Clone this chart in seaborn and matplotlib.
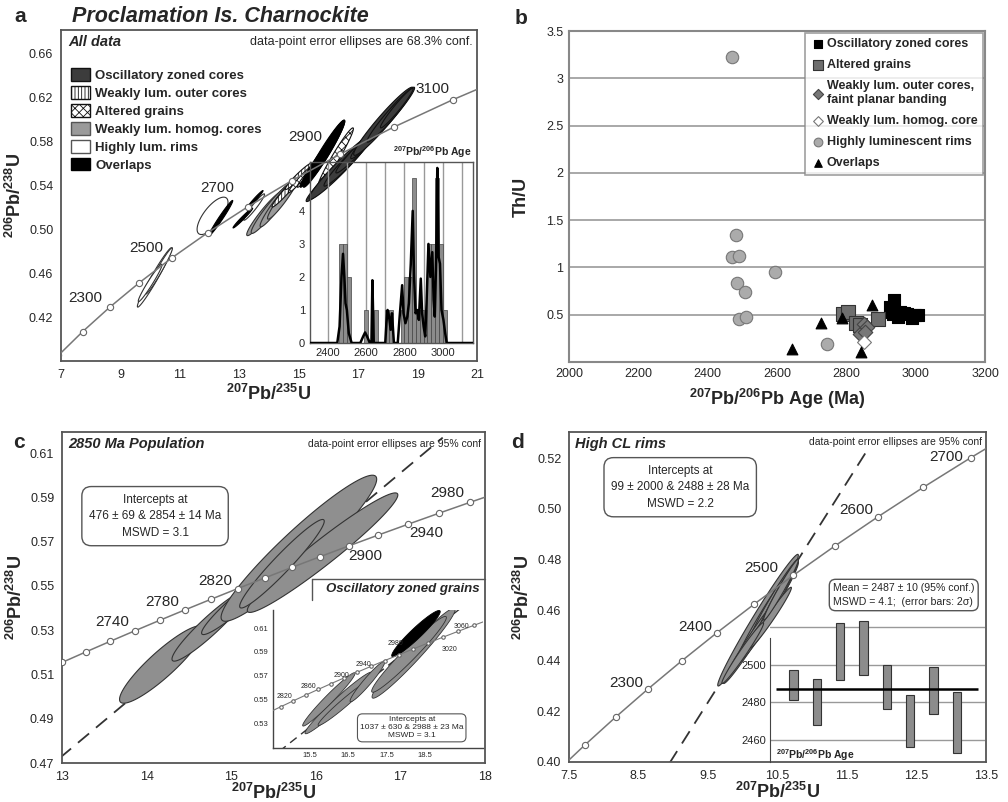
import numpy as np
import seaborn as sns
import matplotlib.pyplot as plt
from matplotlib.patches import Patch, Polygon
from matplotlib.lines import Line2D
from matplotlib.ticker import MultipleLocator, FuncFormatter, FormatStrFormatter

# ---------------- data ----------------
# U decay constants (per Ma) used to place the concordia curves
L238 = 1.55125e-4
L235 = 9.8485e-4

CONC_A = list(range(2100, 3201, 100))
CONC_C = list(range(2680, 3001, 20))
CONC_D = list(range(2150, 2751, 50))
CONC_CI = list(range(2780, 3101, 20))

# error ellipses: (x centre, y centre, x half-extent, y half-extent, rho)
A_RIMS = [(10.15, 0.456, 0.58, 0.027, 0.975), (10.3, 0.462, 0.45, 0.021, 0.975),
          (10.0, 0.451, 0.40, 0.017, 0.97), (12.1, 0.512, 0.52, 0.017, 0.72),
          (13.5, 0.520, 0.35, 0.012, 0.96), (14.2, 0.522, 0.55, 0.020, 0.95)]
A_HOMOG = [(13.85, 0.514, 0.60, 0.020, 0.95), (14.05, 0.518, 0.65, 0.022, 0.95),
           (14.25, 0.522, 0.55, 0.020, 0.95), (14.45, 0.527, 0.50, 0.018, 0.95)]
A_OUTER = [(14.6, 0.535, 0.50, 0.015, 0.97), (15.0, 0.548, 0.45, 0.012, 0.96)]
A_ALTER = [(16.24, 0.565, 0.60, 0.027, 0.97), (15.05, 0.545, 0.40, 0.012, 0.97),
           (15.4, 0.552, 0.45, 0.014, 0.97)]
A_OVERL = [(12.38, 0.510, 0.40, 0.016, 0.98), (13.12, 0.510, 0.33, 0.009, 0.98),
           (13.53, 0.527, 0.27, 0.008, 0.98), (15.85, 0.5685, 0.70, 0.0305, 0.965),
           (15.95, 0.572, 0.60, 0.027, 0.965), (15.6, 0.560, 0.55, 0.022, 0.97)]
A_OSC = [(16.1, 0.548, 0.85, 0.023, 0.97), (16.4, 0.556, 1.05, 0.029, 0.965),
         (16.7, 0.563, 0.85, 0.024, 0.97), (17.0, 0.572, 0.75, 0.021, 0.97),
         (17.6, 0.590, 0.85, 0.026, 0.97), (17.85, 0.598, 1.00, 0.031, 0.965),
         (18.1, 0.604, 0.80, 0.025, 0.97), (18.3, 0.610, 0.55, 0.018, 0.97)]

C_ELL = [(14.18, 0.5145, 0.50, 0.0175, 0.90), (14.75, 0.532, 0.45, 0.016, 0.94),
         (15.1, 0.543, 0.45, 0.015, 0.95), (15.4, 0.552, 0.40, 0.014, 0.95),
         (15.8, 0.567, 0.92, 0.033, 0.945), (16.08, 0.565, 0.89, 0.027, 0.965),
         (15.6, 0.560, 0.50, 0.020, 0.96)]
CI_GRAY = [(18.2, 0.589, 1.08, 0.038, 0.97), (18.08, 0.588, 0.97, 0.032, 0.97),
           (16.25, 0.547, 0.87, 0.026, 0.975), (16.0, 0.550, 0.68, 0.0225, 0.975),
           (16.4, 0.547, 0.68, 0.019, 0.975), (17.0, 0.565, 0.45, 0.017, 0.96)]
CI_BLACK = [(18.26, 0.6055, 0.63, 0.0195, 0.95)]

D_ELL = [(10.22, 0.456, 0.58, 0.026, 0.985), (10.35, 0.459, 0.45, 0.020, 0.98),
         (10.45, 0.464, 0.35, 0.016, 0.98), (10.1, 0.447, 0.38, 0.016, 0.98),
         (10.5, 0.465, 0.30, 0.015, 0.98), (10.25, 0.452, 0.32, 0.013, 0.98),
         (10.4, 0.457, 0.30, 0.012, 0.98), (10.0, 0.443, 0.30, 0.012, 0.98),
         (10.55, 0.468, 0.25, 0.012, 0.98)]

# discordia intercept ages (Ma) and where the dashed line stops (x)
DISC_C = (476, 2854, 17.5)
DISC_CI = (1037, 2988, 19.75)
DISC_D = (99, 2488, 11.78)

# inset a: 207Pb/206Pb age histogram + probability curve
HIST_LEFT = [2460, 2480, 2500, 2590, 2640, 2700, 2720, 2780, 2800, 2820,
             2840, 2860, 2880, 2900, 2920, 2940, 2960, 2980, 3000]
HIST_COUNT = [3, 3, 2, 1, 1, 1, 1, 1, 2, 2, 5, 1, 1, 1, 3, 3, 5, 3, 1]
PDF_AGE = [2300, 2450, 2462, 2472, 2480, 2487, 2493, 2500, 2510, 2525, 2570, 2585,
           2595, 2605, 2620, 2628, 2633, 2640, 2700, 2706, 2712, 2720, 2728, 2735,
           2745, 2765, 2775, 2788, 2795, 2805, 2815, 2823, 2833, 2843, 2850, 2858,
           2866, 2875, 2885, 2892, 2900, 2908, 2915, 2925, 2935, 2945, 2952, 2958,
           2965, 2971, 2978, 2985, 2993, 3003, 3012, 3020, 3160]
PDF_VAL = [0, 0, 0.5, 2.0, 2.7, 2.0, 1.2, 1.0, 0.3, 0, 0, 0.2,
           0.32, 0.2, 0, 0, 1.9, 0, 0, 0.6, 1.0, 0.8, 0.4, 0.9,
           0, 0, 0.8, 1.75, 0.9, 0.6, 0.8, 1.2, 2.4, 4.0, 2.0, 0.9,
           1.0, 0.7, 1.95, 0.9, 0.5, 0.2, 1.2, 3.0, 2.0, 2.75, 1.3, 0.8,
           2.5, 5.3, 2.6, 2.4, 1.0, 0.7, 0.3, 0, 0]

# panel b: Th/U vs 207Pb/206Pb age
OSC_AGE = [2938, 2926, 2931, 2936, 2950, 2955, 2965, 2975, 2989, 2998, 3006]
OSC_THU = [0.655, 0.585, 0.53, 0.51, 0.48, 0.53, 0.52, 0.505, 0.47, 0.50, 0.50]
ALT_AGE = [2789, 2806, 2828, 2838, 2890]
ALT_THU = [0.51, 0.53, 0.415, 0.39, 0.45]
WOC_AGE = [2839, 2851, 2861, 2855]
WOC_THU = [0.30, 0.40, 0.37, 0.32]
WHC_AGE = [2852]
WHC_THU = [0.21]
HLR_AGE = [2471, 2482, 2469, 2490, 2486, 2508, 2489, 2511, 2595, 2743]
HLR_THU = [3.22, 1.34, 1.11, 1.12, 0.84, 0.74, 0.45, 0.475, 0.95, 0.19]
OVL_AGE = [2644, 2728, 2787, 2875, 2842]
OVL_THU = [0.137, 0.415, 0.46, 0.60, 0.11]

# inset d: weighted mean ages (2 sigma bars)
WM_POS = [1, 2, 3, 4, 5, 6, 7, 8]
WM_LO = [2481.3, 2467.6, 2491.5, 2494.3, 2476.5, 2455.9, 2473.7, 2452.9]
WM_HI = [2497.3, 2492.5, 2522.2, 2523.1, 2500.0, 2483.6, 2498.6, 2485.4]
WM_MEAN = 2487.2

# ---------------- style ----------------
sns.set_style('white')
plt.rcParams['font.family'] = ['Liberation Sans', 'DejaVu Sans']
plt.rcParams['mathtext.default'] = 'regular'
plt.rcParams['hatch.linewidth'] = 0.6

W, H = 1008, 802
fig = plt.figure(figsize=(W / 100, H / 100), dpi=100)


def rect(l, t, r, b):
    return [l / W, 1 - b / H, (r - l) / W, (b - t) / H]


def ftext(x, y, s, **kw):
    fig.text(x / W, 1 - y / H, s, **kw)


def conc(ages):
    t = np.asarray(ages, float)
    return np.expm1(L235 * t), np.expm1(L238 * t)


def draw_conc(ax, ages, ms=4.5, lw=1.1):
    x, y = conc(ages)
    ax.plot(x, y, color='#777', lw=lw, marker='o', ms=ms, mfc='white', mec='#666',
            mew=0.8, zorder=3)


def draw_disc(ax, spec, lw=1.3, dash=(0, (8, 5))):
    lo, hi, xend = spec
    (x0, x1), (y0, y1) = conc([lo, hi])
    slope = (y1 - y0) / (x1 - x0)
    ax.plot([x0, xend], [y0, y0 + slope * (xend - x0)], color='#333', lw=lw,
            ls=dash, zorder=1)


def draw_ellipses(ax, rows, fc, ec='#222', hatch=None, lw=0.8, z=2):
    t = np.linspace(0, 2 * np.pi, 90)
    for cx, cy, ex, ey, r in rows:
        x = cx + ex * np.cos(t)
        y = cy + ey * (r * np.cos(t) + np.sqrt(1 - r * r) * np.sin(t))
        ax.add_patch(Polygon(np.column_stack([x, y]), closed=True, fc=fc, ec=ec,
                             hatch=hatch, lw=lw, zorder=z))


def frame(ax, color='#555', lw=1.3):
    for s in ax.spines.values():
        s.set_color(color)
        s.set_linewidth(lw)
    ax.tick_params(which='both', direction='out', color='#555', labelsize=9,
                   width=1, pad=2)
    ax.tick_params(which='major', length=3.5)
    ax.tick_params(which='minor', length=2.5)


LBL = dict(fontsize=13, fontweight='bold')

# ---------------- panel a ----------------
ax_a = fig.add_axes(rect(61, 30, 477, 361))
frame(ax_a)
ax_a.set_xlim(7, 21)
ax_a.set_ylim(0.38, 0.681)
ax_a.set_xticks(range(7, 22, 2))
ax_a.xaxis.set_minor_locator(MultipleLocator(1))
ax_a.set_yticks(np.arange(0.42, 0.67, 0.04))
ax_a.yaxis.set_minor_locator(MultipleLocator(0.02))
ax_a.yaxis.set_major_formatter(FormatStrFormatter('%.2f'))
draw_conc(ax_a, CONC_A)
draw_ellipses(ax_a, A_RIMS, 'white', ec='#333')
draw_ellipses(ax_a, A_HOMOG, '#9a9a9a', ec='#333')
draw_ellipses(ax_a, A_OUTER, 'white', ec='#111', hatch='|||||')
draw_ellipses(ax_a, A_ALTER, 'white', ec='#111', hatch='xxxx')
draw_ellipses(ax_a, A_OVERL, 'black', ec='black')
draw_ellipses(ax_a, A_OSC, '#3c3c3c', ec='#111')
for s, x, y in [('2300', 7.81, 0.437), ('2500', 9.86, 0.483), ('2700', 12.25, 0.537),
                ('2900', 15.21, 0.584), ('3100', 19.49, 0.627)]:
    ax_a.text(x, y, s, fontsize=11, ha='center', va='center', zorder=5)
ax_a.text(0.018, 0.965, 'All data', transform=ax_a.transAxes, fontsize=10.5,
          fontweight='bold', fontstyle='italic', va='center')
ax_a.text(0.99, 0.965, 'data-point error ellipses are 68.3% conf.',
          transform=ax_a.transAxes, fontsize=9, ha='right', va='center')
handles_a = [Patch(fc='#3c3c3c', ec='#111'), Patch(fc='white', ec='#111', hatch='|||||'),
             Patch(fc='white', ec='#111', hatch='xxxx'), Patch(fc='#9a9a9a', ec='#555'),
             Patch(fc='white', ec='#555'), Patch(fc='black', ec='black')]
labels_a = ['Oscillatory zoned cores', 'Weakly lum. outer cores', 'Altered grains',
            'Weakly lum. homog. cores', 'Highly lum. rims', 'Overlaps']
ax_a.legend(handles_a, labels_a, loc='upper left', bbox_to_anchor=(0.012, 0.9),
            frameon=False, prop=dict(weight='bold', size=9.5), handlelength=1.4,
            handleheight=1.05, labelspacing=0.33, handletextpad=0.4, borderaxespad=0)
ax_a.set_xlabel(r'$^{207}$Pb/$^{235}$U', labelpad=2, **LBL)
ax_a.set_ylabel(r'$^{206}$Pb/$^{238}$U', labelpad=3, **LBL)

# inset a: age histogram
in_a = fig.add_axes(rect(310, 162, 473, 343))
in_a.set_facecolor('none')
in_a.bar(HIST_LEFT, HIST_COUNT, width=20, align='edge', color='#8c8c8c',
         edgecolor='#444', lw=0.5, zorder=2)
in_a.plot(PDF_AGE, PDF_VAL, color='black', lw=1.8, zorder=3)
in_a.set_xlim(2308, 3157)
in_a.set_ylim(0, 5.48)
in_a.set_xticks([2400, 2600, 2800, 3000])
in_a.xaxis.set_minor_locator(MultipleLocator(100))
in_a.set_yticks(range(0, 5))
in_a.grid(True, which='both', axis='x', color='#999', lw=1, zorder=0)
for s in in_a.spines.values():
    s.set_color('#555')
    s.set_linewidth(1)
in_a.tick_params(which='both', direction='out', length=2.5, labelsize=8, pad=1,
                 color='#555')
in_a.text(0.99, 1.01, r'$^{207}$Pb/$^{206}$Pb Age', transform=in_a.transAxes,
          ha='right', va='bottom', fontsize=7.5, fontweight='bold')

# ---------------- panel b ----------------
ax_b = fig.add_axes(rect(569, 31, 985, 362))
ax_b.set_xlim(2000, 3200)
ax_b.set_ylim(0, 3.5)
ax_b.set_xticks(range(2000, 3201, 200))
ax_b.set_yticks(np.arange(0, 3.51, 0.5))
ax_b.yaxis.set_major_formatter(FuncFormatter(lambda v, p: '' if v == 0 else f'{v:g}'))
ax_b.yaxis.grid(True, color='#999', lw=1.2)
ax_b.set_axisbelow(True)
for s in ax_b.spines.values():
    s.set_color('#888')
    s.set_linewidth(1.5)
ax_b.tick_params(length=0, labelsize=9, pad=4)
groups_b = [
    ('Oscillatory zoned cores', OSC_AGE, OSC_THU, 's', 'black', 'black', 80),
    ('Altered grains', ALT_AGE, ALT_THU, 's', '#6e6e6e', '#333', 90),
    ('Weakly lum. outer cores,\nfaint planar banding', WOC_AGE, WOC_THU, 'D', '#777', '#444', 55),
    ('Weakly lum. homog. core', WHC_AGE, WHC_THU, 'D', 'white', '#777', 50),
    ('Highly luminescent rims', HLR_AGE, HLR_THU, 'o', '#ababab', '#777', 80),
    ('Overlaps', OVL_AGE, OVL_THU, '^', 'black', 'black', 60),
]
for name, ages, thu, m, fc, ec, s in groups_b:
    sns.scatterplot(x=ages, y=thu, marker=m, color=fc, edgecolor=ec, s=s,
                    linewidth=0.8, ax=ax_b, label=name, zorder=3)
ax_b.legend(loc='upper right', bbox_to_anchor=(0.995, 0.995), frameon=True,
            fancybox=False, edgecolor='#888', prop=dict(weight='bold', size=9),
            markerscale=0.7, handletextpad=0.1, labelspacing=0.72, borderpad=0.45,
            handlelength=1.2, borderaxespad=0).get_frame().set_linewidth(1.2)
ax_b.set_xlabel(r'$^{207}$Pb/$^{206}$Pb Age (Ma)', labelpad=5, **LBL)
ax_b.set_ylabel('Th/U', labelpad=12, **LBL)

# ---------------- panel c ----------------
ax_c = fig.add_axes(rect(62, 432, 485, 763))
frame(ax_c)
ax_c.set_xlim(13, 18)
ax_c.set_ylim(0.47, 0.6195)
ax_c.set_xticks(range(13, 19))
ax_c.xaxis.set_minor_locator(MultipleLocator(0.5))
ax_c.set_yticks(np.arange(0.47, 0.615, 0.02))
ax_c.yaxis.set_minor_locator(MultipleLocator(0.01))
ax_c.yaxis.set_major_formatter(FormatStrFormatter('%.2f'))
draw_disc(ax_c, DISC_C)
draw_ellipses(ax_c, C_ELL, '#8f8f8f', ec='#333')
draw_conc(ax_c, CONC_C)
for s, x, y in [('2740', 13.59, 0.5337), ('2780', 14.19, 0.5427), ('2820', 14.81, 0.5522),
                ('2900', 16.59, 0.5635), ('2940', 17.31, 0.5738), ('2980', 17.55, 0.5919)]:
    ax_c.text(x, y, s, fontsize=11, ha='center', va='center', zorder=5)
ax_c.text(0.015, 0.965, '2850 Ma Population', transform=ax_c.transAxes, fontsize=10.5,
          fontweight='bold', fontstyle='italic', va='center')
ax_c.text(0.99, 0.965, 'data-point error ellipses are 95% conf', transform=ax_c.transAxes,
          fontsize=7.5, ha='right', va='center')
ax_c.text(14.1, 0.5815, 'Intercepts at\n476 ± 69 & 2854 ± 14 Ma\nMSWD = 3.1', fontsize=8.5,
          ha='center', va='center', linespacing=1.5, zorder=6,
          bbox=dict(boxstyle='round,pad=0.6,rounding_size=0.8', fc='white', ec='#555', lw=1))
ax_c.set_xlabel(r'$^{207}$Pb/$^{235}$U', labelpad=0, **LBL)
ax_c.set_ylabel(r'$^{206}$Pb/$^{238}$U', labelpad=3, **LBL)

# inset c: oscillatory zoned grains
fig.add_artist(Line2D([312 / W, 485 / W], [1 - 579 / H, 1 - 579 / H], color='#555', lw=1))
fig.add_artist(Line2D([312 / W, 312 / W], [1 - 579 / H, 1 - 600 / H], color='#555', lw=1))
ftext(480, 589, 'Oscillatory zoned grains', fontsize=9.5, fontweight='bold',
      fontstyle='italic', ha='right', va='center')
in_c = fig.add_axes(rect(273, 610, 483, 748))
in_c.set_facecolor('none')
in_c.set_xlim(14.55, 20.0)
in_c.set_ylim(0.509, 0.6254)
in_c.set_xticks([15.5, 16.5, 17.5, 18.5])
in_c.xaxis.set_minor_locator(MultipleLocator(0.5))
in_c.set_yticks(np.arange(0.53, 0.615, 0.02))
in_c.yaxis.set_minor_locator(MultipleLocator(0.01))
in_c.yaxis.set_major_formatter(FormatStrFormatter('%.2f'))
in_c.spines[['top', 'right']].set_visible(False)
for s in ['left', 'bottom']:
    in_c.spines[s].set_color('#444')
    in_c.spines[s].set_linewidth(1)
in_c.tick_params(which='both', direction='out', length=2, labelsize=5.5, pad=1, color='#444')
draw_disc(in_c, DISC_CI, lw=1, dash=(0, (6, 4)))
draw_ellipses(in_c, CI_GRAY, '#8f8f8f', ec='#333', lw=0.6)
draw_ellipses(in_c, CI_BLACK, 'black', ec='black', lw=0.6)
draw_conc(in_c, CONC_CI, ms=2.5, lw=0.8)
for s, x, y in [('2820', 14.84, 0.5522), ('2860', 15.47, 0.5606), ('2900', 16.33, 0.5705),
                ('2940', 16.9, 0.5798), ('2980', 17.74, 0.5972), ('3020', 19.13, 0.592),
                ('3060', 19.43, 0.6112)]:
    in_c.text(x, y, s, fontsize=5, ha='center', va='center', zorder=5)
in_c.text(18.15, 0.526, 'Intercepts at\n1037 ± 630 & 2988 ± 23 Ma\nMSWD = 3.1', fontsize=6,
          ha='center', va='center', linespacing=1.2, zorder=6,
          bbox=dict(boxstyle='round,pad=0.3,rounding_size=0.6', fc='white', ec='#555', lw=0.8))

# ---------------- panel d ----------------
ax_d = fig.add_axes(rect(569, 432, 986, 762))
frame(ax_d)
ax_d.set_xlim(7.5, 13.5)
ax_d.set_ylim(0.40, 0.5303)
ax_d.set_xticks(np.arange(7.5, 13.6, 1))
ax_d.xaxis.set_minor_locator(MultipleLocator(0.5))
ax_d.set_yticks(np.arange(0.40, 0.525, 0.02))
ax_d.yaxis.set_minor_locator(MultipleLocator(0.01))
ax_d.yaxis.set_major_formatter(FormatStrFormatter('%.2f'))
draw_disc(ax_d, DISC_D)
draw_ellipses(ax_d, D_ELL, '#8f8f8f', ec='#333')
draw_conc(ax_d, CONC_D)
for s, x, y in [('2300', 8.32, 0.4312), ('2400', 9.31, 0.4534), ('2500', 10.26, 0.4767),
                ('2600', 11.63, 0.4996), ('2700', 12.93, 0.5205)]:
    ax_d.text(x, y, s, fontsize=11, ha='center', va='center', zorder=5)
ax_d.text(0.015, 0.965, 'High CL rims', transform=ax_d.transAxes, fontsize=10.5,
          fontweight='bold', fontstyle='italic', va='center')
ax_d.text(0.99, 0.97, 'data-point error ellipses are 95% conf', transform=ax_d.transAxes,
          fontsize=7.5, ha='right', va='center')
ax_d.text(9.1, 0.5085, 'Intercepts at\n99 ± 2000 & 2488 ± 28 Ma\nMSWD = 2.2', fontsize=8.5,
          ha='center', va='center', linespacing=1.5, zorder=6,
          bbox=dict(boxstyle='round,pad=0.6,rounding_size=0.8', fc='white', ec='#555', lw=1))
ax_d.set_xlabel(r'$^{207}$Pb/$^{235}$U', labelpad=0, **LBL)
ax_d.set_ylabel(r'$^{206}$Pb/$^{238}$U', labelpad=3, **LBL)

# inset d: weighted mean
in_d = fig.add_axes(rect(770, 600, 985, 762))
in_d.set_facecolor('none')
in_d.set_xlim(0, 9.2)
in_d.set_ylim(2448, 2534.4)
for g in [2460, 2480, 2500, 2520]:
    in_d.axhline(g, color='#999', lw=1, zorder=0)
in_d.bar(WM_POS, np.subtract(WM_HI, WM_LO), bottom=WM_LO, width=0.36, color='#8c8c8c',
         edgecolor='#333', lw=0.8, zorder=2)
in_d.hlines(WM_MEAN, 0.25, 8.9, color='black', lw=1.8, zorder=3)
in_d.set_xticks([])
in_d.set_yticks([2460, 2480, 2500])
in_d.spines[['top', 'right', 'bottom']].set_visible(False)
in_d.spines['left'].set_bounds(2448, 2514)
in_d.spines['left'].set_color('#444')
in_d.tick_params(axis='y', direction='out', length=2, labelsize=8, pad=1, color='#444')
in_d.text(0.03, 0.045, r'$^{207}$Pb/$^{206}$Pb Age', transform=in_d.transAxes,
          fontsize=7.5, fontweight='bold', va='center')
ftext(833, 595, 'Mean = 2487 ± 10 (95% conf.)\nMSWD = 4.1;  (error bars: 2σ)', fontsize=7.6,
      ha='left', va='center', linespacing=1.5, zorder=6,
      bbox=dict(boxstyle='round,pad=0.35,rounding_size=0.6', fc='white', ec='#555', lw=1))

# ---------------- figure labels ----------------
ftext(20, 17, 'a', fontsize=15, fontweight='bold', ha='center', va='center')
ftext(521, 18, 'b', fontsize=15, fontweight='bold', ha='center', va='center')
ftext(19, 443, 'c', fontsize=15, fontweight='bold', ha='center', va='center')
ftext(517, 443, 'd', fontsize=15, fontweight='bold', ha='center', va='center')
ftext(72, 17, 'Proclamation Is. Charnockite', fontsize=15.5, fontweight='bold',
      fontstyle='italic', ha='left', va='center')

fig.savefig('out.png', dpi=100)
